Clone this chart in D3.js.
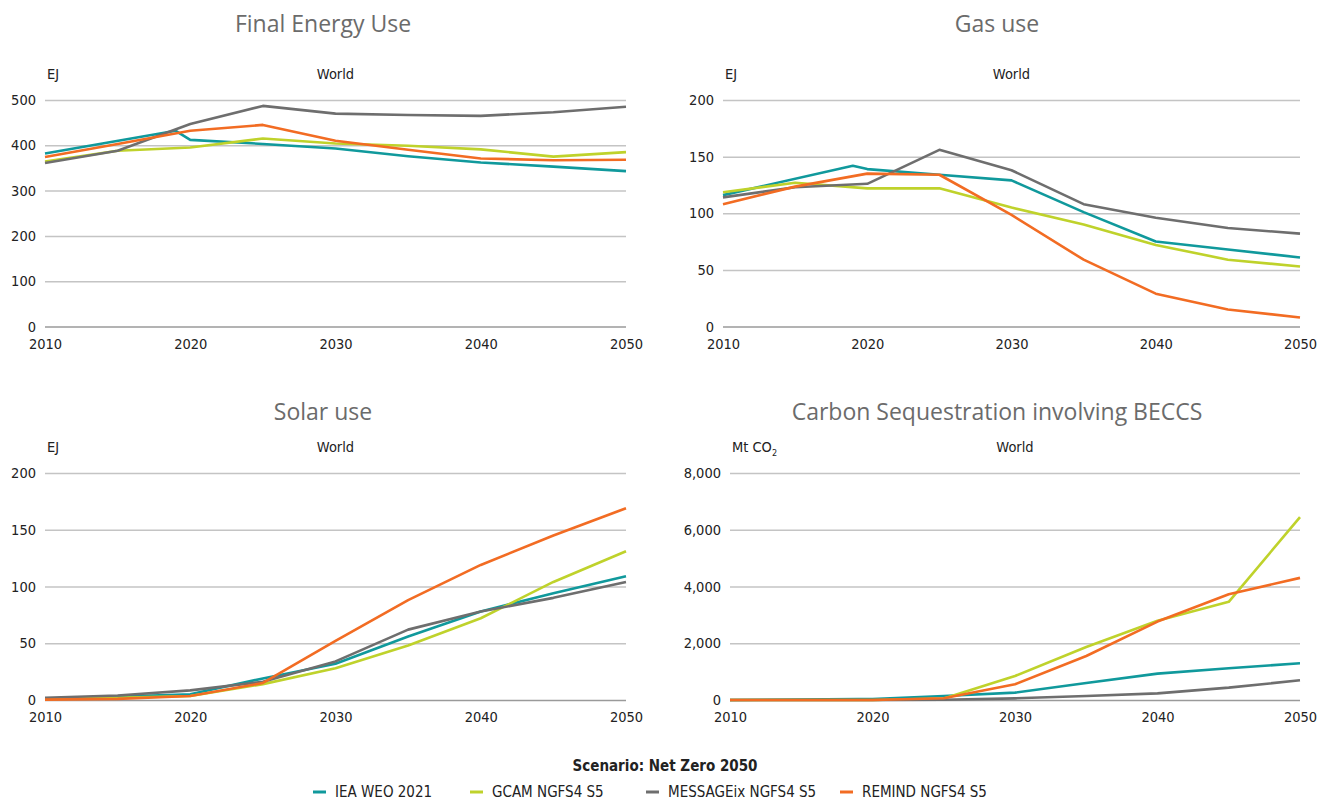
<!DOCTYPE html>
<html>
<head>
<meta charset="utf-8">
<script src="https://cdnjs.cloudflare.com/ajax/libs/d3/7.8.5/d3.min.js"></script>
<style>
  body { margin: 0; background: #fff; }
  svg { display: block; }
  .tick text, .small { font-family: "Liberation Sans Narrow", "DejaVu Sans Condensed", "DejaVu Sans", sans-serif; font-stretch: condensed; font-size: 14.5px; fill: #222; }
  .legend text { font-size: 15px; }
  .grid line { stroke: #c4c4c4; stroke-width: 1.5; }
  .title { font-family: "Open Sans", sans-serif; font-size: 23px; fill: #6b6b6b; }
  .series { fill: none; stroke-width: 2.6; stroke-linejoin: round; }
</style>
</head>
<body>
<script>
/* jshint esversion: 6 */

var width = 1317,
    height = 801;

var years = [2010, 2015, 2020, 2025, 2030, 2035, 2040, 2045, 2050];
var ieaYears = [2010, 2019, 2020, 2025, 2030, 2035, 2040, 2045, 2050];

var seriesNames = ['IEA WEO 2021', 'GCAM NGFS4 S5', 'MESSAGEix NGFS4 S5', 'REMIND NGFS4 S5'];
var seriesColors = ['#10999c', '#bfd22b', '#6e6e6e', '#f26c23'];

// Final energy use, EJ
var energyIea = [382, 432, 412, 403, 393, 376, 362, 353, 343];
var energyGcam = [364, 388, 395, 415, 404, 399, 391, 375, 385];
var energyMessage = [361, 388, 447, 487, 470, 467, 465, 473, 485];
var energyRemind = [374, 403, 432, 445, 410, 390, 371, 367, 368];

// Gas use, EJ
var gasIea = [116, 142, 139, 134, 129, 101, 75, 68, 61];
var gasGcam = [118.5, 127, 122, 122, 105, 90, 72, 59, 53];
var gasMessage = [114, 123, 126, 156, 138, 108, 96, 87, 82];
var gasRemind = [108, 123.5, 135, 134, 98.5, 59, 29, 15, 8];

// Solar use, EJ
var solarIea = [1, 4.5, 5, 19, 32, 56, 78, 94, 109];
var solarGcam = [1, 2, 3.5, 14, 28, 48, 72, 104, 131];
var solarMessage = [2, 4, 8.5, 16, 34, 62, 78, 90, 104];
var solarRemind = [0.3, 1, 3.5, 15, 52, 88, 119, 145, 169];

// Carbon sequestration BECCS, Mt CO2
var beccsIea = [0, 30, 35, 141, 259, 600, 929, 1117, 1294];
var beccsGcam = [0, 0, 0, 50, 847, 1870, 2790, 3460, 6445];
var beccsMessage = [0, 0, 0, 10, 59, 141, 235, 435, 694];
var beccsRemind = [0, 0, 0, 60, 553, 1552, 2764, 3728, 4304];

var xTicks = [2010, 2020, 2030, 2040, 2050];
var energyTicks = [0, 100, 200, 300, 400, 500];
var gasTicks = [0, 50, 100, 150, 200];
var solarTicks = [0, 50, 100, 150, 200];
var beccsTicks = [0, 2000, 4000, 6000, 8000];

var panels = [
    {title: 'Final Energy Use', unit: 'EJ', ticks: energyTicks, fmt: d3.format('d'),
     x0: 45, x1: 626, y0: 100, y1: 326.5, titleX: 323, titleY: 32,
     data: [energyIea, energyGcam, energyMessage, energyRemind]},
    {title: 'Gas use', unit: 'EJ', ticks: gasTicks, fmt: d3.format('d'),
     x0: 723, x1: 1300, y0: 100, y1: 326.5, titleX: 997, titleY: 32,
     data: [gasIea, gasGcam, gasMessage, gasRemind]},
    {title: 'Solar use', unit: 'EJ', ticks: solarTicks, fmt: d3.format('d'),
     x0: 45, x1: 626, y0: 473, y1: 700, titleX: 323, titleY: 420,
     data: [solarIea, solarGcam, solarMessage, solarRemind]},
    {title: 'Carbon Sequestration involving BECCS', unit: 'co2', ticks: beccsTicks, fmt: d3.format(','),
     x0: 730, x1: 1300, y0: 473, y1: 700, titleX: 997, titleY: 420,
     data: [beccsIea, beccsGcam, beccsMessage, beccsRemind]}
];

var svg = d3.select('body')
    .append('svg')
    .attr('width', width)
    .attr('height', height);

panels.forEach(function(p) {
    var x = d3.scaleLinear().domain([2010, 2050]).range([p.x0, p.x1]);
    var y = d3.scaleLinear().domain([0, d3.max(p.ticks)]).range([p.y1, p.y0]);

    var g = svg.append('g');

    g.append('text')
        .attr('class', 'title')
        .attr('x', p.titleX)
        .attr('y', p.titleY)
        .attr('text-anchor', 'middle')
        .text(p.title);

    // gridlines + y labels
    g.append('g')
        .attr('class', 'grid')
        .attr('transform', 'translate(' + p.x0 + ',0)')
        .call(d3.axisLeft(y).tickValues(p.ticks).tickFormat(p.fmt)
            .tickSize(-(p.x1 - p.x0)).tickPadding(9))
        .call(a => a.select('.domain').remove())
        .call(a => a.selectAll('.tick line').filter(d => d === 0).style('stroke', '#9a9a9a'));

    // x labels
    g.append('g')
        .attr('transform', 'translate(0,' + p.y1 + ')')
        .call(d3.axisBottom(x).tickValues(xTicks).tickFormat(d3.format('d')).tickSize(0).tickPadding(12))
        .call(a => a.select('.domain').remove());

    var unit = g.append('text')
        .attr('class', 'small')
        .attr('x', p.x0 + 2)
        .attr('y', p.y0 - 21);
    if (p.unit === 'co2') {
        unit.append('tspan').text('Mt CO');
        unit.append('tspan').attr('font-size', '9px').attr('dy', 4).text('2');
    } else {
        unit.text(p.unit);
    }

    g.append('text')
        .attr('class', 'small')
        .attr('x', (p.x0 + p.x1) / 2)
        .attr('y', p.y0 - 21)
        .attr('text-anchor', 'middle')
        .text('World');

    var line = d3.line()
        .x(d => x(d[0]))
        .y(d => y(d[1]));

    p.data.forEach(function(vals, i) {
        var yrs = i === 0 ? ieaYears : years;
        g.append('path')
            .attr('class', 'series')
            .attr('stroke', seriesColors[i])
            .attr('d', line(vals.map((v, j) => [yrs[j], v])));
    });
});

// legend
var legendG = svg.append('g').attr('class', 'legend');

legendG.append('text')
    .attr('class', 'small')
    .attr('x', 665)
    .attr('y', 771)
    .attr('text-anchor', 'middle')
    .style('font-weight', 'bold')
    .text('Scenario: Net Zero 2050');

var legendX = [313, 470, 646, 840];
var legend = legendG.selectAll('g')
    .data(seriesNames).enter()
    .append('g')
    .attr('transform', (d, i) => 'translate(' + legendX[i] + ',792)');

legend.append('line')
    .attr('x1', 0).attr('x2', 13)
    .attr('stroke', (d, i) => seriesColors[i])
    .attr('stroke-width', 3);

legend.append('text')
    .attr('class', 'small')
    .attr('x', 22)
    .attr('y', 5)
    .text(d => d);
</script>
</body>
</html>
